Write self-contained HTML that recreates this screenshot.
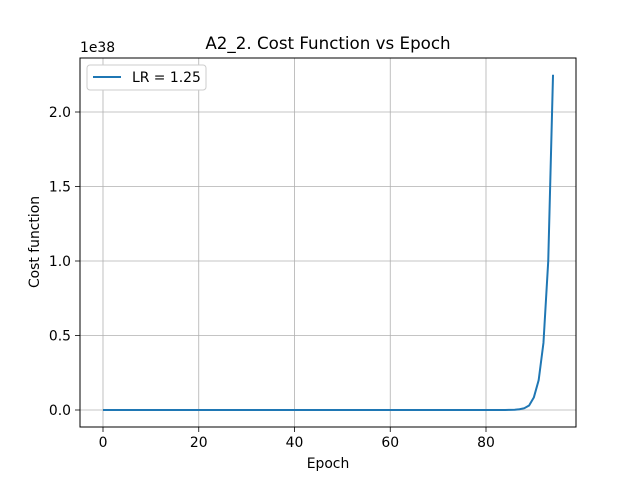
<!DOCTYPE html>
<html><head><meta charset="utf-8"><style>
body{margin:0;background:#fff;}
svg{display:block;font-family:"DejaVu Sans","Liberation Sans",sans-serif;}
</style></head><body>
<svg id="chart" width="640" height="480" viewBox="0 0 640 480">
<rect x="0" y="0" width="640" height="480" fill="#fff"/>
<text x="328" y="49" text-anchor="middle" font-size="16.7">A2_2. Cost Function vs Epoch</text>
<g id="grid"></g>
<g id="xticks"></g>
<g id="yticks"></g>
<path id="line" fill="none" stroke="#1f77b4" stroke-width="2"/>
<rect x="80" y="58" width="496" height="369" fill="none" stroke="#000" stroke-width="1"/>
<text x="80" y="52" font-size="13.9">1e38</text>
<text x="328" y="468" text-anchor="middle" font-size="13.9">Epoch</text>
<text transform="translate(39,242) rotate(-90)" text-anchor="middle" font-size="13.9">Cost function</text>
<g>
<rect x="87" y="65" width="119" height="25" rx="3" fill="#fff" stroke="#ccc"/>
<line x1="93" y1="77" x2="121" y2="77" stroke="#1f77b4" stroke-width="2"/>
<text x="132" y="82" font-size="13.9">LR = 1.25</text>
</g>
</svg>
<script>
const xTicks=[0,20,40,60,80];
const yTicks=[0.0,0.5,1.0,1.5,2.0];
const yTickLabels=["0.0","0.5","1.0","1.5","2.0"];
const costValues=[0,0,0,0,0,0,0,0,0,0, 0,0,0,0,0,0,0,0,0,0, 0,0,0,0,0,0,0,0,0,0, 0,0,0,0,0,0,0,0,0,0,
0,0,0,0,0,0,0,0,0,0, 0,0,0,0,0,0,0,0,0,0, 0,0,0,0,0,0,0,0,0,0, 0,0,0,0,0,0,0,0,0,0,
0,0,0,0,0.0003,0.0008,0.002,0.005,0.012,0.03,0.085,0.2,0.45,1.0,2.25];
const NS="http://www.w3.org/2000/svg";
function xs(v){return 103+v*(486-103)/80;}
function ys(v){return 410-v*(410-112)/2;}
const grid=document.getElementById('grid'),gx=document.getElementById('xticks'),gy=document.getElementById('yticks');
function mk(tag,attrs,parent){const e=document.createElementNS(NS,tag);for(const k in attrs)e.setAttribute(k,attrs[k]);parent.appendChild(e);return e;}
xTicks.forEach(t=>{
 const x=xs(t);
 const g=mk('line',{x1:x,x2:x,y1:58,y2:427,stroke:'#b0b0b0','stroke-width':0.8},grid);
 
 
 const tk=mk('line',{x1:x,x2:x,y1:427,y2:432,stroke:'#000','stroke-width':0.8},gx);
 
 
 const lb=mk('text',{x:x,y:447,'text-anchor':'middle','font-size':13.9},gx);
 lb.textContent=t;
 
 
});
yTicks.forEach((t,i)=>{
 const y=ys(t);
 const g=mk('line',{x1:80,x2:576,y1:y,y2:y,stroke:'#b0b0b0','stroke-width':0.8},grid);
 
 
 const tk=mk('line',{x1:75,x2:80,y1:y,y2:y,stroke:'#000','stroke-width':0.8},gy);
 
 
 const lb=mk('text',{x:71,y:y+5,'text-anchor':'end','font-size':13.9},gy);
 lb.textContent=yTickLabels[i];
 
 
});
document.getElementById('line').setAttribute('d',costValues.map((v,i)=>(i?'L':'M')+xs(i).toFixed(2)+','+ys(v).toFixed(2)).join(''));
</script>
</body></html>
